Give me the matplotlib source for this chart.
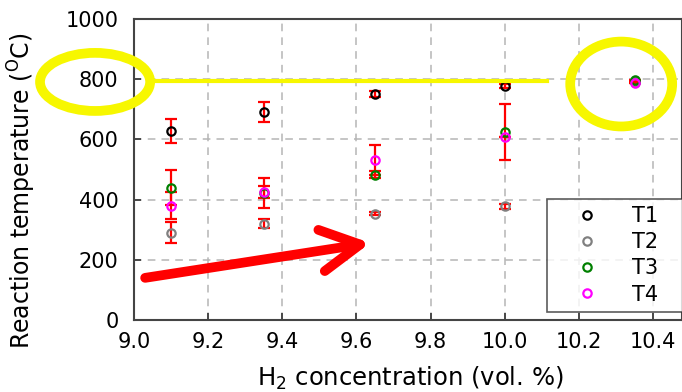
import matplotlib
matplotlib.use('Agg')
import matplotlib.pyplot as plt
from matplotlib.patches import Ellipse
from matplotlib.ticker import MultipleLocator

plt.rcParams['font.family'] = ['DejaVu Sans']
plt.rcParams['mathtext.fontset'] = 'dejavusans'

# H2 concentration (vol. %)
conc = [9.1, 9.35, 9.65, 10.0, 10.35]

# reaction temperatures and error bars
t1 = [627, 690, 750, 777, 790]
t1_err = [40, 33, 10, 6, 0]
t2 = [290, 320, 353, 378, 790]
t2_err = [35, 15, 5, 8, 0]
t3 = [440, 423, 483, 625, 797]
t3_err = [57, 50, 12, 93, 0]
t4 = [380, 425, 533, 607, 786]
t4_err = [45, 20, 50, 0, 0]

series = [('T1', t1, t1_err, 'black'),
          ('T2', t2, t2_err, 'gray'),
          ('T3', t3, t3_err, 'green'),
          ('T4', t4, t4_err, 'magenta')]

fig = plt.figure(figsize=(6.82, 3.92), dpi=100)
ax = fig.add_axes([0.1965, 0.1837, 0.8035, 0.7678])

for lab, y, e, c in series:
    ax.errorbar(conc, y, yerr=e, fmt='none', ecolor='red', elinewidth=1.6,
                capsize=4.5, capthick=1.6, zorder=3)
for lab, y, e, c in series:
    ax.plot(conc, y, 'o', mfc='none', mec=c, mew=1.6, ms=6, label=lab, zorder=4)

ax.set_xlim(9.0, 10.478)
ax.set_ylim(0, 1000)
ax.yaxis.set_major_locator(MultipleLocator(200))
ax.set_xticks([9.0, 9.2, 9.4, 9.6, 9.8, 10.0, 10.2, 10.4])
ax.set_xticklabels(['9.0', '9.2', '9.4', '9.6', '9.8', '10.0', '10.2', '10.4'])
ax.tick_params(direction='in', length=5, width=1.2, labelsize=15, color='#333333')
ax.tick_params(axis='y', pad=11)
ax.tick_params(axis='x', pad=9)
ax.grid(True, ls=(0, (5, 4)), color='#b5b5b5', lw=1.1)
ax.set_axisbelow(True)
for s in ax.spines.values():
    s.set_color('#444444')
    s.set_linewidth(1.5)

ax.set_xlabel('H$_2$ concentration (vol. %)', fontsize=17.5)
ax.xaxis.set_label_coords(0.505, -0.15)
ax.set_ylabel('Reaction temperature ($^{\\rm O}$C)', fontsize=17)
ax.yaxis.set_label_coords(-0.175, 0.43)

# yellow highlight
ax.plot([9.057, 10.115], [793, 793], color='#f7f700', lw=3, zorder=5)
ax.add_patch(Ellipse((8.895, 791), 0.297, 193, fill=False, ec='#f7f700', lw=7,
                     clip_on=False, zorder=6))
ax.add_patch(Ellipse((10.314, 784), 0.275, 282, fill=False, ec='#f7f700', lw=7,
                     clip_on=False, zorder=6))

# red arrow
ax.annotate('', xy=(9.637, 256), xytext=(9.03, 140),
            arrowprops=dict(arrowstyle='->,head_length=1.4,head_width=0.75',
                            color='red', lw=7, mutation_scale=20,
                            shrinkA=0, shrinkB=0), zorder=6)

leg = ax.legend(loc='lower right', bbox_to_anchor=(0.754, 0.027, 0.26, 0.39),
                mode='expand', fontsize=15, frameon=True, fancybox=False,
                edgecolor='#333333', handletextpad=0.6, labelspacing=0.3,
                borderpad=0.35, handlelength=3.1, borderaxespad=0)
leg.get_frame().set_linewidth(1.2)
leg.set_zorder(7)

fig.savefig('out.png', dpi=100)
